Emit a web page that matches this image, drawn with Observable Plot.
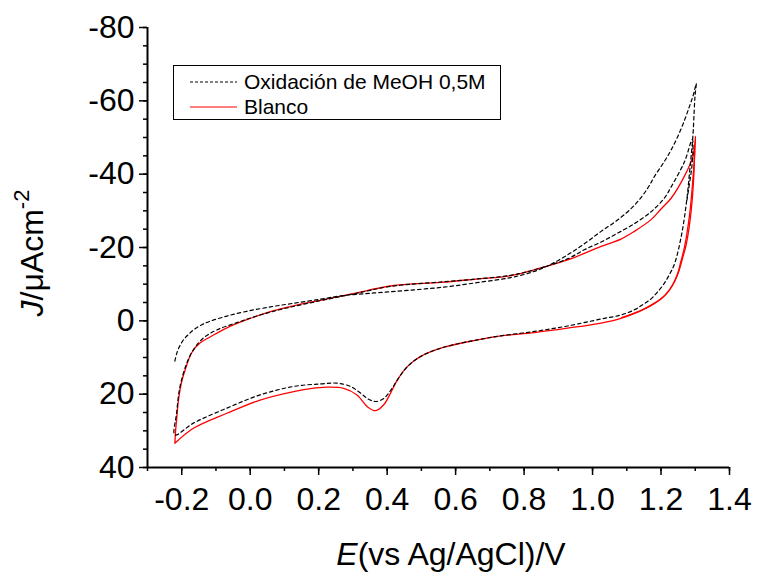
<!DOCTYPE html>
<html>
<head>
<meta charset="utf-8">
<script src="https://cdn.jsdelivr.net/npm/d3@7"></script>
<script src="https://cdn.jsdelivr.net/npm/@observablehq/plot@0.6"></script>
<style>
  html, body { margin: 0; padding: 0; background: white; }
  #wrap { position: relative; width: 757px; height: 573px; }
  #legend { position: absolute; left: 173px; top: 65px; }
</style>
</head>
<body>
<div id="wrap"></div>
<script>
// ---- Data ----
const seriesLabels = ["Oxidación de MeOH 0,5M", "Blanco"];

// Dashed: MeOH oxidation (continuous path, two cycles)
const meohE = [
  -0.220,-0.215,-0.208,-0.195,-0.180,-0.166,-0.140,-0.117,-0.068,-0.010,0.059,0.127,0.205,0.264,0.361,0.459,0.566,0.661,0.761,0.830,0.880,0.927,0.976,1.025,1.073,1.122,1.160,1.181,1.210,1.230,1.250,1.269,1.283,1.293,1.303,
  1.300,1.298,1.293,1.284,1.274,1.259,1.240,1.225,1.210,1.190,1.171,1.145,1.122,1.083,1.025,0.927,0.830,0.732,0.664,0.566,0.498,0.459,0.430,0.410,0.390,0.366,0.346,0.322,0.293,0.254,0.205,0.127,0.029,-0.068,-0.166,-0.220,
  -0.215,-0.205,-0.185,-0.166,-0.137,-0.098,-0.039,0.029,0.107,0.205,0.300,0.410,0.560,0.660,0.760,0.830,0.927,0.976,1.025,1.073,1.122,1.161,1.181,1.210,1.230,1.269,1.288,1.292,
  1.293,1.290,1.284,1.276
];
const meohJ = [
  11.0,9.0,7.3,5.2,3.7,2.5,1.0,0.1,-1.3,-2.6,-3.8,-4.8,-5.9,-6.8,-7.6,-8.3,-9.2,-10.4,-11.8,-13.5,-15.5,-18.0,-21.0,-24.4,-27.5,-31.5,-36.0,-39.4,-43.5,-46.7,-50.5,-54.8,-58.5,-61.2,-64.7,
  -62.0,-59.4,-50.3,-41.2,-32.1,-23.0,-15.7,-12.7,-10.3,-7.9,-6.0,-4.3,-3.0,-1.6,-0.5,1.4,2.9,4.1,5.2,7.2,9.7,12.5,16.1,19.0,21.2,22.0,21.4,19.7,17.9,17.0,17.2,17.9,20.2,23.8,27.9,31.1,
  25.2,17.9,11.5,7.9,4.7,2.5,0.5,-1.6,-3.5,-5.5,-7.3,-9.4,-10.6,-11.4,-12.4,-13.9,-16.9,-19.4,-21.5,-23.9,-26.5,-29.0,-30.6,-33.5,-36.6,-43.5,-48.9,-49.5,
  -46.0,-42.0,-38.0,-33.0
];

// Solid red: Blanco (main loop)
const blancoE = [
  -0.220,-0.218,-0.215,-0.210,-0.205,-0.198,-0.190,-0.171,-0.146,-0.117,-0.068,-0.010,0.059,0.126,0.205,0.300,0.410,0.556,0.660,0.761,0.829,0.927,1.025,1.083,1.122,1.171,1.200,1.230,1.268,1.293,1.301,
  1.298,1.293,1.284,1.269,1.258,1.249,1.236,1.220,1.200,1.175,1.150,1.132,1.083,1.025,0.927,0.830,0.732,0.664,0.566,0.498,0.459,0.430,0.410,0.390,0.366,0.342,0.312,0.273,0.225,0.176,0.127,0.029,-0.068,-0.166,-0.220
];
const blancoJ = [
  33.4,30.0,27.0,22.0,18.8,15.8,13.4,8.7,6.0,4.4,1.9,-0.3,-2.5,-4.1,-5.6,-7.4,-9.5,-10.5,-11.4,-12.3,-13.9,-16.6,-20.3,-22.3,-24.4,-27.6,-30.5,-33.5,-39.4,-44.8,-50.3,
  -45.0,-38.5,-29.4,-20.3,-16.2,-13.0,-10.2,-7.9,-6.0,-4.5,-3.2,-2.4,-0.7,0.6,2.0,3.2,4.1,5.2,7.2,9.7,12.5,16.1,19.7,22.9,24.5,23.4,20.2,18.4,18.1,18.5,19.3,21.6,25.2,29.3,33.4
];
// Solid red: second reverse sweep near the switching potential
const blancoTailE = [1.298,1.296,1.288,1.274,1.262,1.253,1.240,1.224,1.204,1.180,1.155,1.135,1.085];
const blancoTailJ = [-46.2,-40.0,-30.0,-21.0,-16.8,-13.8,-10.8,-8.3,-6.3,-4.7,-3.4,-2.6,-0.9];

// Axis ticks
const xMajorTicks = [-0.2,0.0,0.2,0.4,0.6,0.8,1.0,1.2,1.4];
const xMinorTicks = [-0.3,-0.2,-0.1,0.0,0.1,0.2,0.3,0.4,0.5,0.6,0.7,0.8,0.9,1.0,1.1,1.2,1.3,1.4];
const yMajorTicks = [-80,-60,-40,-20,0,20,40];
const yMinorTicks = d3.range(-80, 41, 5);

// ---- Build tables ----
const meoh = meohE.map((E, i) => ({E, J: meohJ[i]}));
const blanco = blancoE.map((E, i) => ({E, J: blancoJ[i], trace: "a"}))
  .concat(blancoTailE.map((E, i) => ({E, J: blancoTailJ[i], trace: "b"})));

const font = "'Liberation Sans', Arial, Helvetica, sans-serif";

const chart = Plot.plot({
  width: 757,
  height: 573,
  marginLeft: 147,
  marginRight: 28,
  marginTop: 27,
  marginBottom: 106,
  x: {domain: [-0.3, 1.4]},
  y: {domain: [40, -80]},
  style: {fontFamily: font, fontSize: "32px", color: "black", background: "white", overflow: "visible"},
  marks: [
    Plot.axisX({ticks: xMinorTicks, tickSize: 4, strokeWidth: 1.5, tickFormat: () => "", label: null}),
    Plot.axisX({ticks: xMajorTicks, tickSize: 8, tickPadding: 12, strokeWidth: 1.5, fontSize: 32, tickFormat: d => d.toFixed(1), label: null}),
    Plot.axisY({ticks: yMinorTicks, tickSize: 4, strokeWidth: 1.5, tickFormat: () => "", label: null}),
    Plot.axisY({ticks: yMajorTicks, tickSize: 8, tickPadding: 5, strokeWidth: 1.5, fontSize: 32, tickFormat: d => String(d), label: null}),
    Plot.ruleY([40], {stroke: "black", strokeWidth: 2}),
    Plot.ruleX([-0.3], {stroke: "black", strokeWidth: 2}),
    Plot.line(blanco, {x: "E", y: "J", z: "trace", stroke: "#ff0000", strokeWidth: 1.3, curve: "catmull-rom"}),
    Plot.line(meoh, {x: "E", y: "J", stroke: "black", strokeWidth: 1.2, strokeDasharray: "3.5,3", curve: "catmull-rom"})
  ]
});

document.getElementById("wrap").appendChild(chart);

// Axis titles
const svg = d3.select(chart);
const xt = svg.append("text")
  .attr("x", 451).attr("y", 565)
  .attr("text-anchor", "middle")
  .attr("font-family", font).attr("font-size", 32).attr("fill", "black");
xt.append("tspan").attr("font-style", "italic").text("E");
xt.append("tspan").text("(vs Ag/AgCl)/V");

const yt = svg.append("text")
  .attr("transform", "translate(43,253) rotate(-90)")
  .attr("text-anchor", "middle")
  .attr("font-family", font).attr("font-size", 32).attr("fill", "black");
yt.append("tspan").attr("font-style", "italic").text("J");
yt.append("tspan").text("/\u03BCAcm");
yt.append("tspan").attr("dy", -14).attr("font-size", 22).text("-2");

// Legend (overlay)
const leg = d3.select("#wrap").append("svg")
  .attr("id", "legend").attr("width", 329).attr("height", 56);
leg.append("rect").attr("x", 0.5).attr("y", 0.5).attr("width", 327).attr("height", 54)
  .attr("fill", "white").attr("stroke", "black").attr("stroke-width", 1);
const rows = [
  {label: seriesLabels[0], stroke: "black", dash: "3,2", y: 17},
  {label: seriesLabels[1], stroke: "#ff0000", dash: null, y: 42}
];
rows.forEach(r => {
  leg.append("line").attr("x1", 17).attr("x2", 64).attr("y1", r.y).attr("y2", r.y)
    .attr("stroke", r.stroke).attr("stroke-width", 1.2).attr("stroke-dasharray", r.dash);
  leg.append("text").attr("x", 71).attr("y", r.y).attr("dy", "0.35em")
    .attr("font-family", font).attr("font-size", 21).attr("fill", "black").text(r.label);
});
</script>
</body>
</html>
